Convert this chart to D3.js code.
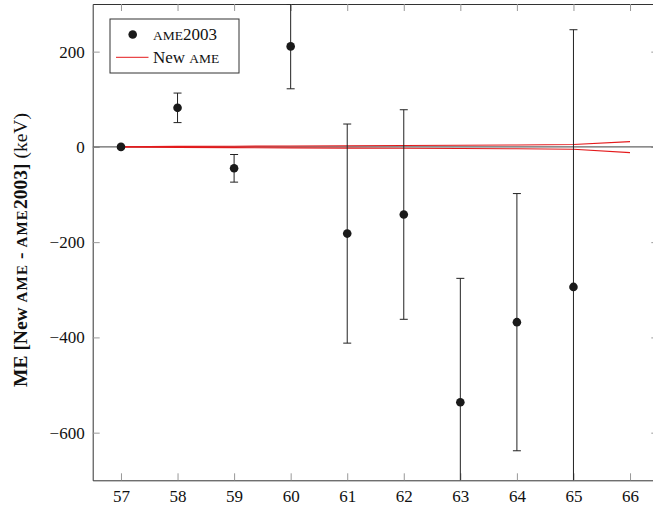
<!DOCTYPE html>
<html>
<head>
<meta charset="utf-8">
<script src="https://cdn.jsdelivr.net/npm/d3@7/dist/d3.min.js"></script>
<style>
  body { margin: 0; background: #fff; }
  svg { display: block; }
  text, tspan { font-family: "Liberation Serif", "Times New Roman", serif; fill: #111; }
</style>
</head>
<body>
<svg id="chart"></svg>
<script>
// AME2003 deviations (keV) with their errors, per mass number
const massNumbers = [57, 58, 59, 60, 61, 62, 63, 64, 65];
const ameDiff     = [0, 82, -45, 211, -182, -142, -536, -368, -294];
const ameErr      = [0, 31, 29, 89, 230, 220, 260, 270, 540];

// New AME uncertainty band
const newMass  = [57, 58, 59, 60, 61, 62, 63, 64, 65, 66];
const newUpper = [0, 1, 1.5, 2, 2.5, 3, 3.5, 4, 5, 11];
const newLower = [0, -1, -1.5, -2, -2.5, -3, -3.5, -4, -5, -12];

const xTicks = [57, 58, 59, 60, 61, 62, 63, 64, 65, 66];
const yTicks = [-600, -400, -200, 0, 200];

const svgWidth = 653, svgHeight = 506;
const plotLeft = 92.7, plotRight = 658.3, plotTop = 4, plotBottom = 480.3;
const serif = '"Liberation Serif", "Times New Roman", serif';

const svg = d3.select("#chart").attr("width", svgWidth).attr("height", svgHeight);

const x = d3.scaleLinear().domain([56.5, 66.5]).range([plotLeft, plotRight]);
const y = d3.scaleLinear().domain([-700, 300]).range([plotBottom, plotTop]);

svg.append("defs").append("clipPath").attr("id", "plot")
  .append("rect").attr("x", plotLeft).attr("y", plotTop)
  .attr("width", plotRight - plotLeft).attr("height", plotBottom - plotTop);

// axes with inward ticks (box style)
const tickLen = 7;
svg.append("g").attr("transform", `translate(0,${plotBottom})`)
  .call(d3.axisBottom(x).tickValues(xTicks).tickSize(-tickLen).tickPadding(12).tickSizeOuter(0))
  .call(g => g.attr("font-family", null))
  .call(g => g.selectAll(".tick line").attr("stroke", "#999"))
  .call(g => g.selectAll("text").style("font-family", serif).attr("font-size", 17).attr("dy", "0.6em"));
svg.append("g").attr("transform", `translate(0,${plotTop})`)
  .call(d3.axisTop(x).tickValues(xTicks).tickSize(-tickLen).tickFormat("").tickSizeOuter(0))
  .call(g => g.selectAll(".tick line").attr("stroke", "#999"));
svg.append("g").attr("transform", `translate(${plotLeft},0)`)
  .call(d3.axisLeft(y).tickValues(yTicks).tickSize(-tickLen).tickPadding(8).tickSizeOuter(0))
  .call(g => g.attr("font-family", null))
  .call(g => g.selectAll(".tick line").attr("stroke", "#999"))
  .call(g => g.selectAll("text").style("font-family", serif).attr("font-size", 17));
svg.append("g").attr("transform", `translate(${plotRight},0)`)
  .call(d3.axisRight(y).tickValues(yTicks).tickSize(-tickLen).tickFormat("").tickSizeOuter(0))
  .call(g => g.selectAll(".tick line").attr("stroke", "#999"));
svg.selectAll(".domain").attr("stroke", "#333");

const plot = svg.append("g").attr("clip-path", "url(#plot)");

// zero line
plot.append("line")
  .attr("x1", plotLeft).attr("x2", plotRight)
  .attr("y1", y(0)).attr("y2", y(0))
  .attr("stroke", "#666").attr("stroke-width", 1.2);

// New AME band edges
const band = newMass.map((m, i) => ({ m, hi: newUpper[i], lo: newLower[i] }));
plot.append("path").datum(band)
  .attr("fill", "none").attr("stroke", "#e41a1c").attr("stroke-width", 1.1)
  .attr("d", d3.line().x(d => x(d.m)).y(d => y(d.hi)));
plot.append("path").datum(band)
  .attr("fill", "none").attr("stroke", "#e41a1c").attr("stroke-width", 1.1)
  .attr("d", d3.line().x(d => x(d.m)).y(d => y(d.lo)));

// AME2003 points with error bars
const pts = massNumbers.map((m, i) => ({ m, v: ameDiff[i], e: ameErr[i] }));
const withErr = pts.filter(d => d.e > 0);
const bars = plot.append("g").attr("stroke", "#222").attr("stroke-width", 1);
bars.selectAll(".eb").data(withErr).join("line").attr("class", "eb")
  .attr("x1", d => x(d.m)).attr("x2", d => x(d.m))
  .attr("y1", d => y(d.v + d.e)).attr("y2", d => y(d.v - d.e));
bars.selectAll(".capT").data(withErr).join("line").attr("class", "capT")
  .attr("x1", d => x(d.m) - 4).attr("x2", d => x(d.m) + 4)
  .attr("y1", d => y(d.v + d.e)).attr("y2", d => y(d.v + d.e));
bars.selectAll(".capB").data(withErr).join("line").attr("class", "capB")
  .attr("x1", d => x(d.m) - 4).attr("x2", d => x(d.m) + 4)
  .attr("y1", d => y(d.v - d.e)).attr("y2", d => y(d.v - d.e));
plot.selectAll("circle").data(pts).join("circle")
  .attr("cx", d => x(d.m)).attr("cy", d => y(d.v)).attr("r", 4.3)
  .attr("fill", "#1a1a1a");

// legend
const lg = svg.append("g");
lg.append("rect").attr("x", 110).attr("y", 19).attr("width", 129).attr("height", 54)
  .attr("fill", "#fff").attr("stroke", "#333").attr("stroke-width", 1);
lg.append("circle").attr("cx", 132.7).attr("cy", 34.5).attr("r", 4.3).attr("fill", "#1a1a1a");
lg.append("line").attr("x1", 116).attr("x2", 148.5).attr("y1", 57.3).attr("y2", 57.3)
  .attr("stroke", "#e41a1c").attr("stroke-width", 1);
const t1 = lg.append("text").attr("x", 153).attr("y", 40).attr("font-size", 17);
t1.append("tspan").attr("font-size", 13.5).text("AME");
t1.append("tspan").text("2003");
const t2 = lg.append("text").attr("x", 153).attr("y", 63).attr("font-size", 17);
t2.append("tspan").text("New ");
t2.append("tspan").attr("font-size", 13.5).text("AME");

// y label
const yl = svg.append("text")
  .attr("transform", "translate(26.5,250) rotate(-90)")
  .attr("text-anchor", "middle").attr("font-size", 19.5);
yl.append("tspan").attr("font-weight", "bold").text("ME [New ");
yl.append("tspan").attr("font-weight", "bold").attr("font-size", 15).attr("letter-spacing", 1.2).text("AME");
yl.append("tspan").attr("font-weight", "bold").text(" - ");
yl.append("tspan").attr("font-weight", "bold").attr("font-size", 15).attr("letter-spacing", 1.2).text("AME");
yl.append("tspan").attr("font-weight", "bold").text("2003]");
yl.append("tspan").text(" (keV)");
</script>
</body>
</html>
